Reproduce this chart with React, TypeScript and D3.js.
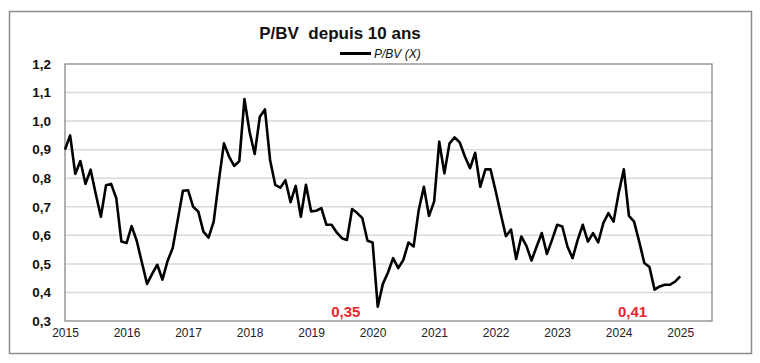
import { useRef, useEffect } from 'react';
import * as d3 from 'd3';

// monthly P/BV, Jan 2015 -> Jan 2025
const pbv: number[] = [
  0.9, 0.95, 0.815, 0.86, 0.78, 0.83, 0.745, 0.665, 0.775, 0.78, 0.73, 0.578,
  0.573, 0.632, 0.58, 0.505, 0.43, 0.465, 0.497, 0.445, 0.51, 0.555, 0.655, 0.756,
  0.758, 0.7, 0.683, 0.613, 0.592, 0.648, 0.79, 0.922, 0.876, 0.843, 0.86, 1.077,
  0.963, 0.885, 1.015, 1.041, 0.864, 0.777, 0.767, 0.793, 0.716, 0.773, 0.665, 0.777,
  0.684, 0.686, 0.695, 0.637, 0.637, 0.61, 0.59, 0.584, 0.692, 0.678, 0.66, 0.581,
  0.575, 0.35, 0.43, 0.47, 0.52, 0.485, 0.514, 0.575, 0.561, 0.689, 0.77, 0.668,
  0.718, 0.928, 0.817, 0.922, 0.943, 0.925, 0.876, 0.835, 0.889, 0.77, 0.831, 0.831,
  0.755, 0.675, 0.597, 0.62, 0.517, 0.596, 0.563, 0.512, 0.561, 0.608, 0.535, 0.584,
  0.637, 0.631, 0.561, 0.52, 0.584, 0.637, 0.578, 0.608, 0.575, 0.643, 0.678, 0.648,
  0.748, 0.831, 0.668, 0.648, 0.578, 0.503, 0.489, 0.41, 0.421, 0.427, 0.427, 0.438,
  0.456,
];

const years = ['2015', '2016', '2017', '2018', '2019', '2020', '2021', '2022', '2023', '2024', '2025'];
const yTicks = [0.3, 0.4, 0.5, 0.6, 0.7, 0.8, 0.9, 1.0, 1.1, 1.2];

const annotations = [
  { idx: 61, label: '0,35', dx: -32 },
  { idx: 115, label: '0,41', dx: -22 },
];

const FONT = '"Liberation Sans", Arial, sans-serif';

export default function App() {
  const svgRef = useRef<SVGSVGElement>(null);

  useEffect(() => {
    if (!svgRef.current) return;
    const svg = d3.select(svgRef.current);
    svg.selectAll('*').remove();

    const width = 760;
    const height = 363;
    const margin = { top: 64, right: 48, bottom: 42, left: 65 };
    const innerW = width - margin.left - margin.right;
    const innerH = height - margin.top - margin.bottom;

    // outer frame
    svg.append('rect')
      .attr('x', 9.5).attr('y', 11.5)
      .attr('width', 742).attr('height', 342)
      .attr('fill', '#fff')
      .attr('stroke', '#8c8c8c')
      .attr('stroke-width', 1.5);

    // title + legend
    svg.append('text')
      .attr('x', 340).attr('y', 39)
      .attr('text-anchor', 'middle')
      .attr('font-family', FONT).attr('font-size', 17).attr('font-weight', 700)
      .attr('fill', '#111')
      .style('white-space', 'pre')
      .text('P/BV  depuis 10 ans');
    svg.append('line')
      .attr('x1', 340).attr('x2', 371).attr('y1', 53.5).attr('y2', 53.5)
      .attr('stroke', '#000').attr('stroke-width', 3);
    svg.append('text')
      .attr('x', 374).attr('y', 58)
      .attr('font-family', FONT).attr('font-size', 12).attr('font-style', 'italic')
      .attr('fill', '#111')
      .text('P/BV (X)');

    const g = svg.append('g').attr('transform', `translate(${margin.left},${margin.top})`);

    const x = d3.scaleLinear().domain([0, 126.2]).range([0, innerW]);
    const y = d3.scaleLinear().domain([0.3, 1.2]).range([innerH, 0]);

    // grid
    g.append('g')
      .selectAll('line')
      .data(yTicks.filter((t) => t > 0.3 && t < 1.2))
      .enter()
      .append('line')
      .attr('x1', 0).attr('x2', innerW)
      .attr('y1', (d) => y(d)).attr('y2', (d) => y(d))
      .attr('stroke', '#d9d9d9').attr('stroke-width', 1.5);

    // plot frame
    g.append('rect')
      .attr('x', 0).attr('y', 0)
      .attr('width', innerW).attr('height', innerH)
      .attr('fill', 'none')
      .attr('stroke', '#7f7f7f').attr('stroke-width', 1.2);

    // y axis
    const yAxis = g.append('g')
      .call(d3.axisLeft(y).tickValues(yTicks).tickSize(0).tickPadding(14)
        .tickFormat((d) => (d as number).toFixed(1).replace('.', ',')));
    yAxis.select('.domain').remove();
    yAxis.selectAll('text')
      .attr('font-family', FONT).attr('font-size', 13.5).attr('font-weight', 700)
      .attr('fill', '#111');

    // x axis
    const xAxis = g.append('g')
      .attr('transform', `translate(0,${innerH})`)
      .call(d3.axisBottom(x).tickValues(years.map((_, i) => i * 12)).tickSize(0).tickPadding(7)
        .tickFormat((_, i) => years[i]));
    xAxis.select('.domain').remove();
    xAxis.selectAll('text')
      .attr('font-family', FONT).attr('font-size', 12)
      .attr('fill', '#222');

    // series
    const line = d3.line<number>()
      .x((_, i) => x(i))
      .y((d) => y(d));
    g.append('path')
      .datum(pbv)
      .attr('d', line)
      .attr('fill', 'none')
      .attr('stroke', '#000')
      .attr('stroke-width', 2.6)
      .attr('stroke-linejoin', 'round');

    // annotations
    g.selectAll('.ann')
      .data(annotations)
      .enter()
      .append('text')
      .attr('class', 'ann')
      .attr('x', (d) => x(d.idx) + d.dx)
      .attr('y', innerH - 4)
      .attr('text-anchor', 'middle')
      .attr('font-family', FONT).attr('font-size', 15).attr('font-weight', 700)
      .attr('fill', '#e8262b')
      .text((d) => d.label);
  }, []);

  return (
    <svg
      ref={svgRef}
      width={760}
      height={363}
      style={{ position: 'absolute', left: 0, top: 0, display: 'block', background: '#fff' }}
    />
  );
}
